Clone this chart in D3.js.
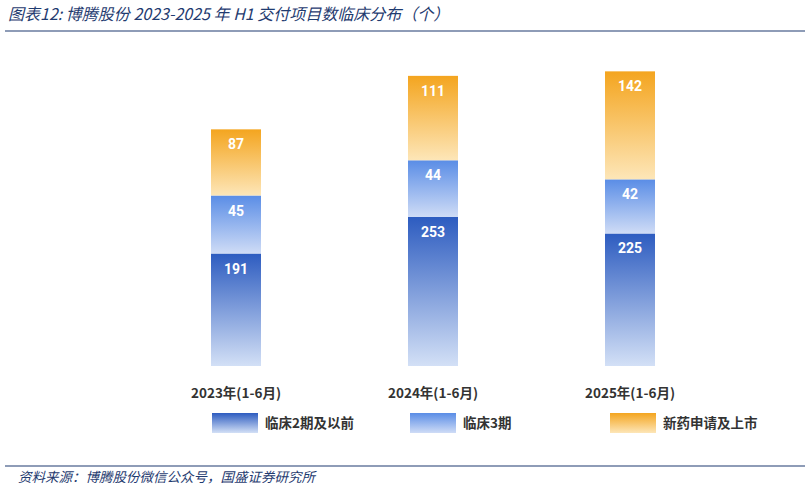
<!DOCTYPE html>
<html><head><meta charset="utf-8">
<script src="https://cdn.jsdelivr.net/npm/d3@7"></script>
<style>body{margin:0;background:#fff;font-family:"Noto Sans CJK SC","Noto Sans",sans-serif;}</style>
</head><body><div class="chart"></div>
<script>
var categories = ["2023年(1-6月)", "2024年(1-6月)", "2025年(1-6月)"];
var phase2 = [191, 253, 225];
var phase3 = [45, 44, 42];
var nda = [87, 111, 142];
var seriesNames = ["临床2期及以前", "临床3期", "新药申请及上市"];

var svgWidth = 810, svgHeight = 490;
var baseY = 366;
var barW = 50;

var svg = d3.select(".chart").append("svg")
  .attr("width", svgWidth).attr("height", svgHeight);

var defs = svg.append("defs");
function grad(id, top, bottom) {
  var g = defs.append("linearGradient").attr("id", id)
    .attr("x1", 0).attr("y1", 0).attr("x2", 0).attr("y2", 1);
  g.append("stop").attr("offset", "0%").attr("stop-color", top);
  g.append("stop").attr("offset", "100%").attr("stop-color", bottom);
}
grad("g1", "#2d5cc0", "#d3e0f6");
grad("g2", "#5a8de6", "#cfdcf6");
grad("g3", "#f4a51f", "#fde6b8");

// title
svg.append("text").attr("x", 8).attr("y", 20)
  .attr("fill", "#1f3b70").attr("font-size", 16).attr("font-style", "italic")
  .text("图表12:  博腾股份 2023-2025 年 H1 交付项目数临床分布（个）");
svg.append("line").attr("x1", 5).attr("x2", 805).attr("y1", 31).attr("y2", 31)
  .attr("stroke", "#1f3b70").attr("stroke-width", 1.2);

var x = d3.scalePoint().domain(categories).range([137.5, 728.5]).padding(0.5);

// segment scales (the source draws each layer at its own scale)
var h1 = d3.scaleLinear().domain([0, 253]).range([0, 149]);
var h2 = d3.scaleLinear().domain([0, 45]).range([0, 58]);
var h3 = d3.scaleLinear().domain([0, 142]).range([0, 108]);

var layers = [
  {vals: phase2, sc: h1, fill: "url(#g1)"},
  {vals: phase3, sc: h2, fill: "url(#g2)"},
  {vals: nda, sc: h3, fill: "url(#g3)"}
];

categories.forEach(function(c, i) {
  var y = baseY;
  layers.forEach(function(l) {
    var h = l.sc(l.vals[i]);
    y -= h;
    svg.append("rect").attr("x", x(c) - barW / 2).attr("y", y)
      .attr("width", barW).attr("height", h).attr("fill", l.fill);
    svg.append("text").attr("x", x(c)).attr("y", y + 20)
      .attr("text-anchor", "middle").attr("fill", "#fff")
      .attr("font-size", 14).attr("font-weight", "bold")
      .attr("font-family", "Roboto, sans-serif").text(l.vals[i]);
  });
  svg.append("text").attr("x", x(c)).attr("y", 398)
    .attr("text-anchor", "middle").attr("fill", "#333")
    .attr("font-size", 13.5).attr("font-weight", "bold").text(c);
});

// legend
var legX = [212, 410, 610];
var legFill = ["url(#g1)", "url(#g2)", "url(#g3)"];
seriesNames.forEach(function(n, i) {
  svg.append("rect").attr("x", legX[i]).attr("y", 413).attr("width", 46).attr("height", 20)
    .attr("fill", legFill[i]);
  svg.append("text").attr("x", legX[i] + 53).attr("y", 428)
    .attr("fill", "#333").attr("font-size", 13.5).attr("font-weight", "bold").text(n);
});

// footer
svg.append("line").attr("x1", 5).attr("x2", 805).attr("y1", 466).attr("y2", 466)
  .attr("stroke", "#1f3b70").attr("stroke-width", 1.2);
svg.append("text").attr("x", 18).attr("y", 482)
  .attr("fill", "#1f3b70").attr("font-size", 13.5).attr("font-style", "italic")
  .text("资料来源：博腾股份微信公众号，国盛证券研究所");
</script></body></html>
